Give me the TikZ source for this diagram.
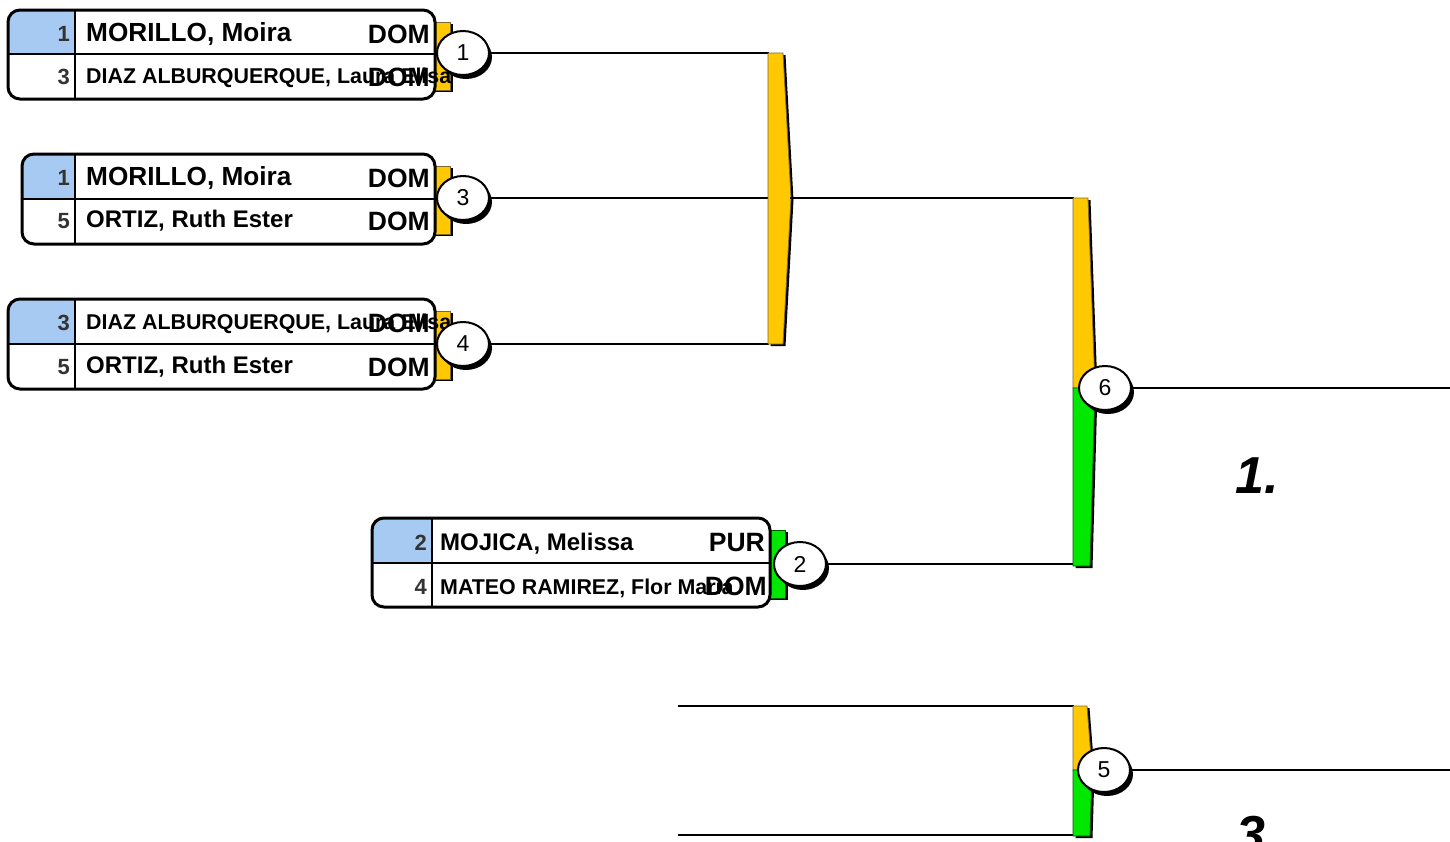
\documentclass[tikz,border=0pt]{standalone}
\usepackage{fontspec}
\setmainfont{Liberation Sans}
\usetikzlibrary{shapes.geometric,shadows}

\definecolor{seedblue}{RGB}{166,202,242}
\definecolor{baryellow}{RGB}{255,200,0}
\definecolor{bargreen}{RGB}{0,232,0}
\definecolor{baredge}{RGB}{125,105,40}

\tikzset{
  boxline/.style={line width=3pt, rounded corners=12pt},
  rowrule/.style={line width=1.3pt},
  seedno/.style={anchor=east, inner sep=0pt, font=\fontsize{22}{24}\selectfont\bfseries, text=black!80},
  player/.style={anchor=west, inner sep=0pt, font=\fontsize{24}{28}\selectfont\bfseries},
  bigplayer/.style={player, font=\fontsize{26.2}{28}\selectfont\bfseries},
  longplayer/.style={anchor=west, inner sep=0pt, font=\fontsize{21.4}{24}\selectfont\bfseries},
  nation/.style={anchor=east, inner sep=0pt, font=\fontsize{26.5}{28}\selectfont\bfseries},
  matchno/.style={ellipse, draw, line width=2pt, fill=white, minimum width=52pt,
    minimum height=44pt, inner sep=0pt, font=\fontsize{23}{24}\selectfont,
    drop shadow={fill=black, opacity=1, shadow xshift=3pt, shadow yshift=-4pt}},
  flagY/.style={fill=baryellow, draw=baredge, line width=0.8pt,
    drop shadow={fill=black, opacity=1, shadow xshift=2.5pt, shadow yshift=-2pt}},
  flagG/.style={fill=bargreen, draw=green!35!black, line width=0.8pt,
    drop shadow={fill=black, opacity=1, shadow xshift=2.5pt, shadow yshift=-2pt}},
  link/.style={line width=2.5pt},
  rank/.style={anchor=base west, inner sep=0pt, font=\fontsize{52}{56}\selectfont\bfseries\itshape}
}

\begin{document}
\begin{tikzpicture}[x=1pt, y=-1pt]
  \useasboundingbox (0,0) rectangle (1450,841);

  % flags behind the boxes
  \path[flagY] (431,22) rectangle (450,90);
  \path[flagY] (431,166) rectangle (450,234);
  \path[flagY] (431,311) rectangle (450,379);
  \path[flagG] (766,530) rectangle (785,598);

  % box of match 1
  \fill[white, rounded corners=12pt] (8,10) rectangle (435,99);
  \begin{scope}
    \clip[rounded corners=12pt] (8,10) rectangle (435,99);
    \fill[seedblue] (8,10) rectangle (75,54);
  \end{scope}
  \draw[rowrule] (8,54) -- (435,54) (75,10) -- (75,99);
  \draw[boxline] (8,10) rectangle (435,99);
  \node[seedno] (s1a) at (70,34) {1};
  \node[bigplayer] (n1a) at (86,34) {MORILLO, Moira};
  \node[nation] (c1a) at (430,34) {DOM};
  \node[seedno] (s1b) at (70,77) {3};
  \node[longplayer] (n1b) at (86,78) {DIAZ ALBURQUERQUE, Laura Elisa};
  \node[nation] (c1b) at (430,77) {DOM};

  % box of match 3
  \fill[white, rounded corners=12pt] (22,154) rectangle (435,244);
  \begin{scope}
    \clip[rounded corners=12pt] (22,154) rectangle (435,244);
    \fill[seedblue] (22,154) rectangle (75,199);
  \end{scope}
  \draw[rowrule] (22,199) -- (435,199) (75,154) -- (75,244);
  \draw[boxline] (22,154) rectangle (435,244);
  \node[seedno] (s3a) at (70,178) {1};
  \node[bigplayer] (n3a) at (86,178) {MORILLO, Moira};
  \node[nation] (c3a) at (430,178) {DOM};
  \node[seedno] (s3b) at (70,221) {5};
  \node[player] (n3b) at (86,221) {ORTIZ, Ruth Ester};
  \node[nation] (c3b) at (430,221) {DOM};

  % box of match 4
  \fill[white, rounded corners=12pt] (8,299) rectangle (435,389);
  \begin{scope}
    \clip[rounded corners=12pt] (8,299) rectangle (435,389);
    \fill[seedblue] (8,299) rectangle (75,344);
  \end{scope}
  \draw[rowrule] (8,344) -- (435,344) (75,299) -- (75,389);
  \draw[boxline] (8,299) rectangle (435,389);
  \node[seedno] (s4a) at (70,323) {3};
  \node[longplayer] (n4a) at (86,324) {DIAZ ALBURQUERQUE, Laura Elisa};
  \node[nation] (c4a) at (430,323) {DOM};
  \node[seedno] (s4b) at (70,367) {5};
  \node[player] (n4b) at (86,367) {ORTIZ, Ruth Ester};
  \node[nation] (c4b) at (430,367) {DOM};

  % box of match 2
  \fill[white, rounded corners=12pt] (372,518) rectangle (770,607);
  \begin{scope}
    \clip[rounded corners=12pt] (372,518) rectangle (770,607);
    \fill[seedblue] (372,518) rectangle (432,563);
  \end{scope}
  \draw[rowrule] (372,563) -- (770,563) (432,518) -- (432,607);
  \draw[boxline] (372,518) rectangle (770,607);
  \node[seedno] (s2a) at (427,543) {2};
  \node[player] (n2a) at (440,544) {MOJICA, Melissa};
  \node[nation] (c2a) at (765,543) {PUR};
  \node[seedno] (s2b) at (427,587) {4};
  \node[longplayer] (n2b) at (440,588) {MATEO RAMIREZ, Flor Maria};
  \node[nation] (c2b) at (767,586) {DOM};

  % match numbers
  \node[matchno] (m1) at (463,53) {1};
  \node[matchno] (m3) at (463,198) {3};
  \node[matchno] (m4) at (463,344) {4};
  \node[matchno] (m2) at (800,564) {2};

  \coordinate (b1top) at (769,53);
  \coordinate (b1tip) at (790,198);
  \coordinate (b1bot) at (769,344);
  \coordinate (b2top) at (1074,198);
  \coordinate (b2bot) at (1074,564);
  \coordinate (b5top) at (1074,706);
  \coordinate (b5bot) at (1074,835);
  \coordinate (f5a) at (678,706);
  \coordinate (f5b) at (678,835);
  \coordinate (end6) at (1450,388);
  \coordinate (end5) at (1450,770);

  \draw[link] (m1.east) -- (b1top);
  \draw[link] (m3.east) -- (b1tip);
  \draw[link] (m4.east) -- (b1bot);
  \path[flagY] (768,53) -- (783,53) -- (791,198) -- (783,344) -- (768,344) -- cycle;

  \draw[link] (b1tip) -- (b2top);
  \draw[link] (m2.east) -- (b2bot);
  \draw[link] (f5a) -- (b5top);
  \draw[link] (f5b) -- (b5bot);

  \path[flagY] (1073,198) -- (1088,198) -- (1095,388) -- (1073,388) -- cycle;
  \path[flagG] (1073,388) -- (1095,388) -- (1090,566) -- (1073,566) -- cycle;
  \path[flagY] (1073,706) -- (1087,706) -- (1092,770) -- (1073,770) -- cycle;
  \path[flagG] (1073,770) -- (1092,770) -- (1090,836) -- (1073,836) -- cycle;

  \node[matchno] (m6) at (1105,388) {6};
  \node[matchno] (m5) at (1104,770) {5};
  \draw[link] (m6.east) -- (end6);
  \draw[link] (m5.east) -- (end5);

  \node[rank] (r1) at (1235,493) {1.};
  \node[rank] (r3) at (1236,852) {3.};
\end{tikzpicture}
\end{document}
